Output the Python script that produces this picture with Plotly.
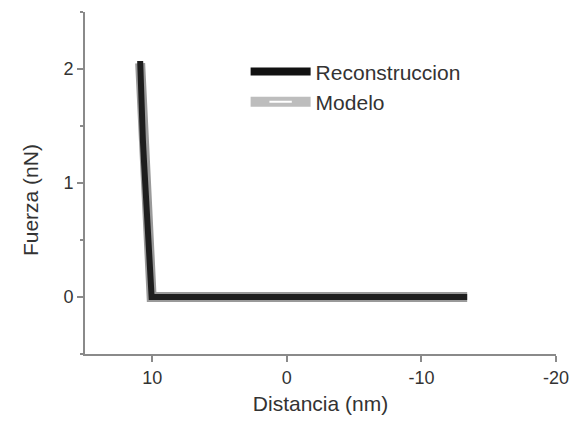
import plotly.graph_objects as go

# Data
dist_rec = [10.9, 10.87, 10.82, 10.76, 10.7, 10.62, 10.55, 10.47, 10.4, 10.32, 10.25, 10.2, 10.05, 5.0, 0.0, -5.0, -10.0, -13.4]
force_rec = [2.07, 1.9, 1.72, 1.55, 1.38, 1.2, 1.02, 0.85, 0.68, 0.5, 0.32, 0.12, 0.0, 0.0, 0.0, 0.0, 0.0, 0.0]

dist_mod = [10.9, 10.6, 10.2, 10.05, 0.0, -13.4]
force_mod = [2.05, 1.2, 0.1, 0.0, 0.0, 0.0]

x_ticks = [10, 0, -10, -20]
x_ticklabels = ["10", "0", "-10", "-20"]
y_ticks = [0, 1, 2]

fig = go.Figure()

# Modelo: gray thick line (drawn under)
fig.add_trace(go.Scatter(x=dist_mod, y=force_mod, mode="lines",
                         line=dict(color="#9a9a9a", width=10),
                         showlegend=False, hoverinfo="skip"))
# Reconstruccion: black line on top
fig.add_trace(go.Scatter(x=dist_rec, y=force_rec, mode="lines",
                         line=dict(color="#1e1e1e", width=6),
                         showlegend=False, hoverinfo="skip"))

# Legend entries
fig.add_trace(go.Scatter(x=[None], y=[None], mode="lines", name="Reconstruccion",
                         line=dict(color="#111111", width=8)))
fig.add_trace(go.Scatter(x=[None], y=[None], mode="lines+markers", name="Modelo",
                         line=dict(color="#bdbdbd", width=10),
                         marker=dict(symbol="line-ew-open", size=16,
                                     line=dict(color="white", width=2), color="white")))

axis_color = "#8a8a8a"
txt_color = "#333333"
fig.update_layout(
    width=573, height=430,
    margin=dict(l=85, r=17, t=12, b=76),
    paper_bgcolor="white", plot_bgcolor="white",
    font=dict(family="Liberation Sans, Arial, sans-serif", color=txt_color),
    showlegend=True,
    legend=dict(x=0.341, y=0.885, xanchor="left", yanchor="top",
                bgcolor="rgba(0,0,0,0)", font=dict(size=21, color=txt_color),
                itemwidth=60, tracegroupgap=0),
    xaxis=dict(range=[15, -20], tickvals=x_ticks, ticktext=x_ticklabels,
               showgrid=False, zeroline=False, automargin=False,
               showline=True, linecolor=axis_color, linewidth=2,
               ticks="outside", ticklen=6, tickwidth=2, tickcolor=axis_color,
               tickfont=dict(size=18, color=txt_color),
               title=dict(text="Distancia (nm)", font=dict(size=21, color=txt_color), standoff=10)),
    yaxis=dict(range=[-0.5, 2.5], tickvals=y_ticks, showgrid=False, zeroline=False,
               automargin=False,
               showline=True, linecolor=axis_color, linewidth=2,
               ticks="outside", ticklen=6, tickwidth=2, tickcolor=axis_color,
               minor=dict(dtick=0.5, ticks="outside", ticklen=3, tickwidth=1.5, tickcolor=axis_color),
               tickfont=dict(size=18, color=txt_color)),
    annotations=[dict(text="Fuerza (nN)", textangle=-90, xref="paper", yref="paper",
                      x=0, y=0.45, xanchor="center", yanchor="middle", xshift=-55,
                      showarrow=False, font=dict(size=21, color=txt_color))],
)

fig.write_html("out.html", config={"displayModeBar": False},
               post_script="document.body.style.margin='0';document.body.style.overflow='hidden';")
